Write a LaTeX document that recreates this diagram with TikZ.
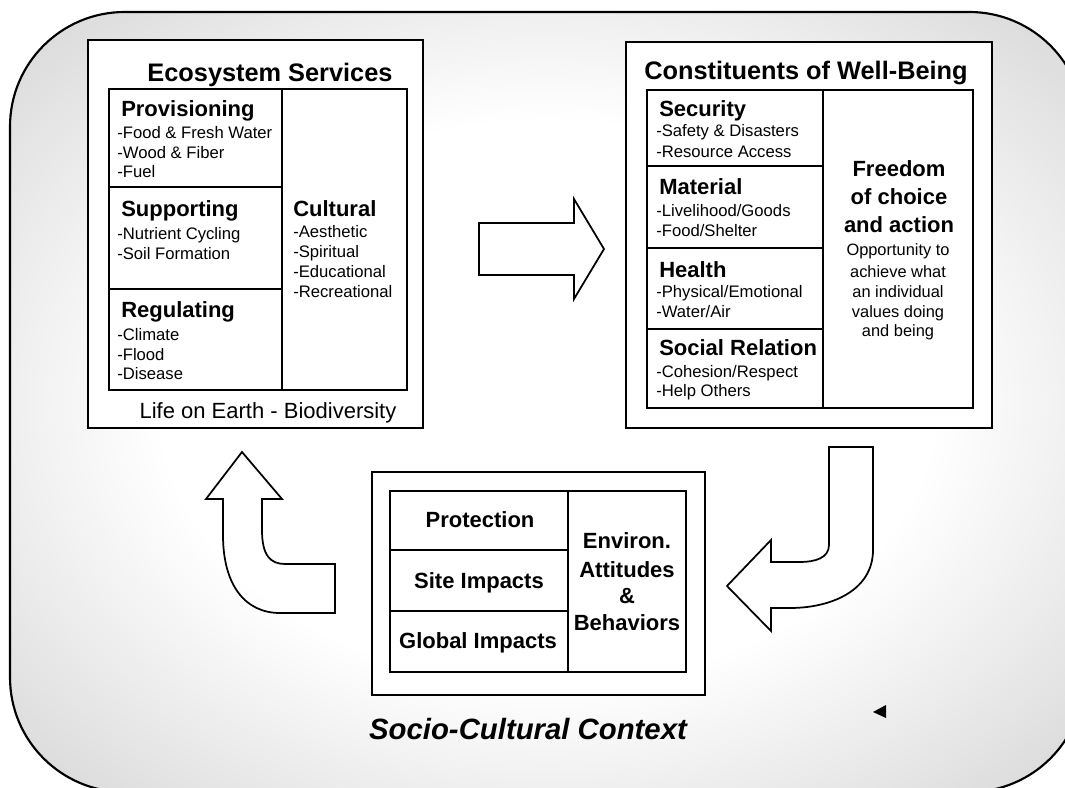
\documentclass[tikz,border=0pt]{standalone}
\usepackage{fontspec}
\setmainfont{Liberation Sans}
\usetikzlibrary{fit}
% soft grey haze, darker towards the rim of the context panel
\pgfdeclareradialshading{haze}{\pgfpoint{0bp}{0bp}}{color(0bp)=(white); color(18bp)=(white); color(40bp)=(black!20); color(50bp)=(black!26)}

\begin{document}
\begin{tikzpicture}[x=0.75pt,y=-0.75pt,
  frame/.style={draw=black, line width=1.5pt, fill=white, inner sep=0pt},
  cell/.style={draw=black, line width=1.3pt, inner sep=0pt},
  ttl/.style={font=\bfseries\fontsize{19}{22}\selectfont, inner sep=0pt, anchor=base},
  head/.style={font=\bfseries\fontsize{16.5}{19}\selectfont, inner sep=0pt, anchor=base west},
  headc/.style={font=\bfseries\fontsize{16.5}{19}\selectfont, inner sep=0pt, anchor=base},
  item/.style={font=\fontsize{12.5}{15}\selectfont, inner sep=0pt, anchor=base west},
  itemc/.style={font=\fontsize{12.3}{15}\selectfont, inner sep=0pt, anchor=base},
  blockarrow/.style={draw=black, line width=1.3pt, line join=miter},
]

% socio-cultural context panel
\begin{scope}
  \clip (0,0) rectangle (1065,788);
  \shade[shading=haze, rounded corners=86pt] (10,12) rectangle (1084,792);
  \draw[line width=1.6pt, rounded corners=86pt] (10,12) rectangle (1084,792);
\end{scope}

% ---------------- Ecosystem Services ----------------
\node[frame, fit={(88,40) (423,428)}] (eco) {};
\node[cell, fit={(109,89) (282,187)}] (prov) {};
\node[cell, fit={(109,187) (282,289)}] (supp) {};
\node[cell, fit={(109,289) (282,390)}] (regu) {};
\node[cell, fit={(282,89) (407,390)}] (cult) {};

\node[ttl] (ecoT) at (270,82) {Ecosystem Services};

\node[head] (provH) at (121,117) {Provisioning};
\node[item] (prov1) at (117,139) {-Food \& Fresh Water};
\node[item] (prov2) at (117,159) {-Wood \& Fiber};
\node[item] (prov3) at (117,178) {-Fuel};

\node[head] (suppH) at (121,217) {Supporting};
\node[item] (supp1) at (117,240) {-Nutrient Cycling};
\node[item] (supp2) at (117,260) {-Soil Formation};

\node[head] (reguH) at (121,318) {Regulating};
\node[item] (regu1) at (117,340) {-Climate};
\node[item] (regu2) at (117,360) {-Flood};
\node[item] (regu3) at (117,379) {-Disease};

\node[head] (cultH) at (293,217) {Cultural};
\node[item] (cult1) at (293,238) {-Aesthetic};
\node[item] (cult2) at (293,258) {-Spiritual};
\node[item] (cult3) at (293,278) {-Educational};
\node[item] (cult4) at (293,298) {-Recreational};

\node[font=\fontsize{16.5}{19}\selectfont, inner sep=0pt, anchor=base] (life) at (268,418) {Life on Earth - Biodiversity};

% ---------------- Constituents of Well-Being ----------------
\node[frame, fit={(626,42) (992,428)}] (well) {};
\node[cell, fit={(647,90) (823,166)}] (secu) {};
\node[cell, fit={(647,166) (823,248)}] (mate) {};
\node[cell, fit={(647,248) (823,329)}] (heal) {};
\node[cell, fit={(647,329) (823,408)}] (soci) {};
\node[cell, fit={(823,90) (973,408)}] (free) {};

\node[ttl] (wellT) at (806,80) {Constituents of Well-Being};

\node[head] (secuH) at (659,117) {Security};
\node[item] (secu1) at (656,137) {-Safety \& Disasters};
\node[item] (secu2) at (656,158) {-Resource Access};

\node[head] (mateH) at (659,195) {Material};
\node[item] (mate1) at (656,217) {-Livelihood/Goods};
\node[item] (mate2) at (656,237) {-Food/Shelter};

\node[head] (healH) at (659,277) {Health};
\node[item] (heal1) at (656,298) {-Physical/Emotional};
\node[item] (heal2) at (656,318) {-Water/Air};

\node[head] (sociH) at (659,355) {Social Relation};
\node[item] (soci1) at (656,378) {-Cohesion/Respect};
\node[item] (soci2) at (656,397) {-Help Others};

\node[headc] (free1) at (899,177) {Freedom};
\node[headc] (free2) at (899,205) {of choice};
\node[headc] (free3) at (899,233) {and action};
\node[itemc] (free4) at (898,256) {Opportunity to};
\node[itemc] (free5) at (898,277) {achieve what};
\node[itemc] (free6) at (898,297) {an individual};
\node[itemc] (free7) at (898,317) {values doing};
\node[itemc] (free8) at (898,336) {and being};

% ---------------- Environmental attitudes ----------------
\node[frame, fit={(372,472) (705,695)}] (envi) {};
\node[cell, fit={(390,491) (568,550)}] (prot) {};
\node[cell, fit={(390,550) (568,611)}] (site) {};
\node[cell, fit={(390,611) (568,672)}] (glob) {};
\node[cell, fit={(568,491) (686,672)}] (attd) {};

\node[headc] (protT) at (480,527) {Protection};
\node[headc] (siteT) at (479,588) {Site Impacts};
\node[headc] (globT) at (478,648) {Global Impacts};

\node[headc] (attd1) at (627,548) {Environ.};
\node[headc] (attd2) at (627,577) {Attitudes};
\node[headc] (attd3) at (627,603) {\&};
\node[headc] (attd4) at (627,630) {Behaviors};

\node[font=\bfseries\itshape\fontsize{22}{26}\selectfont, inner sep=0pt, anchor=base] (ctx) at (528,739) {Socio-Cultural Context};

% ---------------- block arrows ----------------
% services -> well-being
\draw[blockarrow] (479,223) -- (574,223) -- (574,199) -- (604,249) -- (574,299)
  -- (574,275) -- (479,275) -- cycle;
% well-being -> attitudes
\draw[blockarrow] (829,447) -- (829,545) .. controls (829,558) and (815,562) .. (800,562)
  -- (771,562) -- (771,540) -- (727,586) -- (771,631) -- (771,608) -- (790,608)
  .. controls (832,608) and (873,590) .. (873,550) -- (873,447) -- cycle;
% attitudes -> services
\draw[blockarrow] (335,564) -- (285,564) .. controls (270,564) and (262,555) .. (262,530)
  -- (262,499) -- (282,499) -- (242,452) -- (206,499) -- (223,499) -- (223,535)
  .. controls (223,585) and (245,613) .. (280,613) -- (335,613) -- cycle;

% small marker
\fill (873,712) -- (886,705) -- (886,718) -- cycle;

% page extent
\pgfresetboundingbox
\useasboundingbox (0,0) rectangle (1065,788);
\end{tikzpicture}
\end{document}
